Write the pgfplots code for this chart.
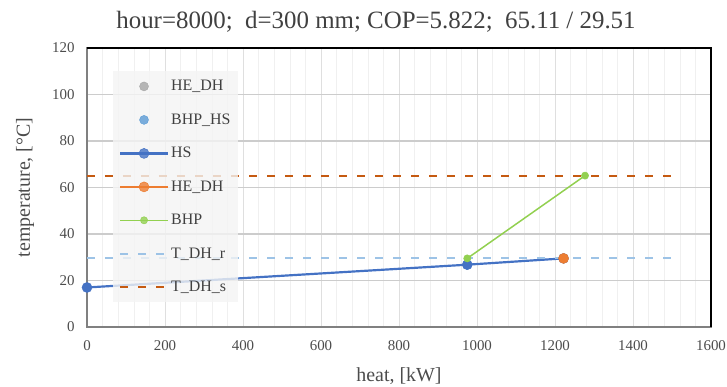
\documentclass[border=0pt]{standalone}
\usepackage{pgfplots}
\pgfplotsset{compat=1.18}
\usepackage{fontspec}
\setmainfont{Liberation Serif}
\definecolor{hsblue}{HTML}{4472C4}
\definecolor{heorange}{HTML}{ED7D31}
\definecolor{bhpgreen}{HTML}{92D050}
\definecolor{hegray}{HTML}{A5A5A5}
\definecolor{bhphs}{HTML}{5B9BD5}
\definecolor{tdhr}{HTML}{9DC3E6}
\definecolor{tdhs}{HTML}{C55A11}
\begin{document}
\begin{tikzpicture}
\begin{axis}[
  name=ax,
  scale only axis,
  width=624bp, height=279bp,
  xmin=0, xmax=1600, ymin=0, ymax=120,
  xtick={0,200,...,1600}, ytick={0,20,...,120},
  minor x tick num=4,
  xmajorgrids, xminorgrids, ymajorgrids,
  major x grid style={gray!25, line width=0.6pt},
  minor x grid style={gray!12, line width=0.5pt},
  major y grid style={gray!40, line width=1.2pt},
  tick style={draw=none},
  axis line style={draw=black!50, line width=1.2pt},
  /pgf/number format/assume math mode=true,
  /pgf/number format/1000 sep={},
  ticklabel style={font=\fontsize{15}{17}\selectfont, text=black!70},
  yticklabel style={xshift=-9bp},
  xticklabel style={yshift=-10bp},
  xlabel={heat, [kW]}, ylabel={temperature, [°C]},
  label style={font=\fontsize{20}{24}\selectfont, text=black!70},
  xlabel style={at={(axis description cs:0.5,0)}, anchor=base, yshift=-54bp},
  ylabel style={at={(axis description cs:-0.0994,0.5)}, anchor=center},
  legend cell align=left,
  legend style={at={(axis cs:66,110)}, anchor=north west,
    fill=gray!9, fill opacity=0.8, text opacity=1, draw=none,
    font=\fontsize{16}{18}\selectfont, text=black!75,
    row sep=17.5bp, inner xsep=6bp, inner ysep=7bp},
  legend image code/.code={\draw[mark repeat=2,mark phase=2,#1] plot coordinates {(0bp,0bp) (24bp,0bp) (48bp,0bp)};},
]
\addplot[only marks, mark=*, mark size=4.5bp, color=hegray] coordinates {(1222,29.51)};
\addlegendentry{HE\_DH}
\addplot[only marks, mark=*, mark size=4.5bp, color=bhphs] coordinates {(975,26.8)};
\addlegendentry{BHP\_HS}
\addplot[color=hsblue, line width=2.2pt, mark=*, mark size=5bp, mark options={solid, line width=0.5pt}] coordinates {(0,17.0) (975,26.8) (1222,29.51)};
\addlegendentry{HS}
\addplot[color=heorange, line width=2.2pt, mark=*, mark size=5bp, mark options={line width=0.5pt}] coordinates {(1222,29.51)};
\addlegendentry{HE\_DH}
\addplot[color=bhpgreen, line width=1.5pt, mark=*, mark size=3.6bp, mark options={line width=0.5pt}] coordinates {(975,29.51) (1277,65.11)};
\addlegendentry{BHP}
\addplot[color=tdhr, line width=2.2pt, dash pattern=on 8bp off 10bp] coordinates {(0,29.51) (1500,29.51)};
\addlegendentry{T\_DH\_r}
\addplot[color=tdhs, line width=2.2pt, dash pattern=on 8bp off 10bp] coordinates {(0,65.11) (1500,65.11)};
\addlegendentry{T\_DH\_s}
\end{axis}
\draw[black, line width=1.5pt] (ax.north west) -- (ax.north east) -- (ax.south east);
\node[anchor=base, font=\fontsize{25}{30}\selectfont, text=black!75, inner sep=0pt]
  at ([xshift=-23bp, yshift=19bp]ax.north) {hour=8000;\ \ d=300 mm; COP=5.822;\ \ 65.11 / 29.51};
\pgfresetboundingbox
\path (ax.south west) ++(-87bp,-60bp) rectangle ([shift={(16bp,48bp)}]ax.north east);
\end{tikzpicture}
\end{document}
